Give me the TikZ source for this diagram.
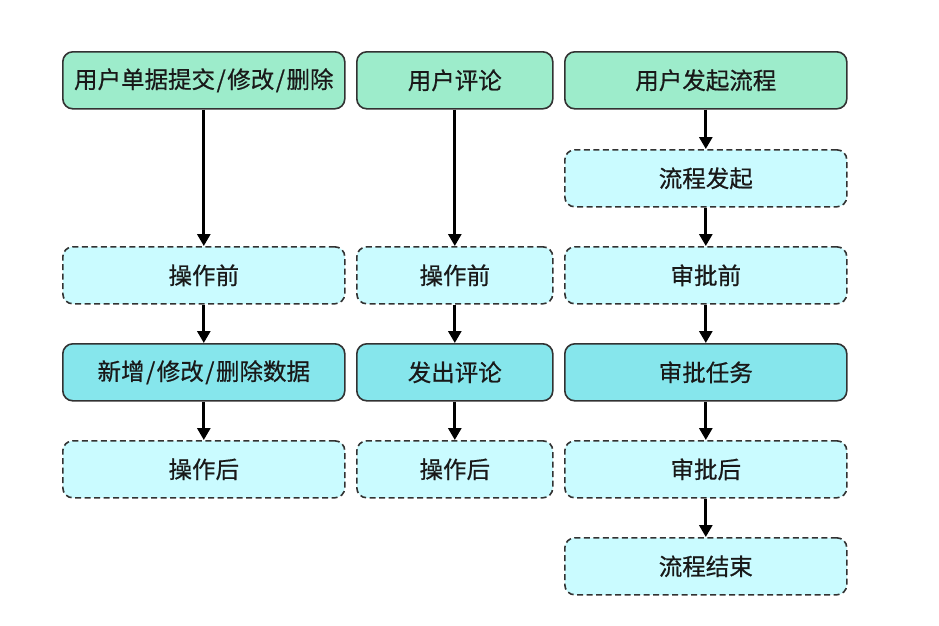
\documentclass[tikz,border=0pt]{standalone}
\usepackage{fontspec}
\newfontfamily\cjk[FakeBold=0.6]{Noto Sans CJK SC}
\usetikzlibrary{arrows.meta}
\definecolor{topgreen}{RGB}{157,236,203}
\definecolor{midcyan}{RGB}{134,230,236}
\definecolor{lightcyan}{RGB}{202,251,255}
\definecolor{edgegray}{RGB}{50,50,50}
\newcommand{\myslash}{\hspace{1.5pt}/\hspace{1.5pt}}
\tikzset{
  basebox/.style={rounded corners=10pt, draw=edgegray, line width=1.6pt, inner sep=0pt, anchor=north west, font=\cjk\fontsize{23.5}{27}\selectfont, text=black!90},
  topbox/.style={basebox, fill=topgreen},
  actbox/.style={basebox, fill=midcyan},
  hookbox/.style={basebox, fill=lightcyan, dash pattern=on 6pt off 3.5pt},
  flow/.style={line width=2.8pt, -{Triangle[length=12pt,width=13pt]}}
}
\begin{document}
\begin{tikzpicture}[x=1pt,y=-1pt]
\useasboundingbox (0,0) rectangle (939,625);
% column 1
\node[topbox, minimum width=282pt, minimum height=57pt] (a1) at (62,51) {用户单据提交\myslash 修改\myslash 删除};
\node[hookbox, minimum width=282pt, minimum height=57pt] (a2) at (62,246) {操作前};
\node[actbox, minimum width=282pt, minimum height=57pt] (a3) at (62,343) {新增\myslash 修改\myslash 删除数据};
\node[hookbox, minimum width=282pt, minimum height=57pt] (a4) at (62,440) {操作后};
% column 2
\node[topbox, minimum width=196pt, minimum height=57pt] (b1) at (356,51) {用户评论};
\node[hookbox, minimum width=196pt, minimum height=57pt] (b2) at (356,246) {操作前};
\node[actbox, minimum width=196pt, minimum height=57pt] (b3) at (356,343) {发出评论};
\node[hookbox, minimum width=196pt, minimum height=57pt] (b4) at (356,440) {操作后};
% column 3
\node[topbox, minimum width=282pt, minimum height=57pt] (c1) at (564,51) {用户发起流程};
\node[hookbox, minimum width=282pt, minimum height=57pt] (c2) at (564,149) {流程发起};
\node[hookbox, minimum width=282pt, minimum height=57pt] (c3) at (564,246) {审批前};
\node[actbox, minimum width=282pt, minimum height=57pt] (c4) at (564,343) {审批任务};
\node[hookbox, minimum width=282pt, minimum height=57pt] (c5) at (564,440) {审批后};
\node[hookbox, minimum width=282pt, minimum height=57pt] (c6) at (564,537) {流程结束};
% arrows
\draw[flow] (a1.south) -- (a2.north);
\draw[flow] (a2.south) -- (a3.north);
\draw[flow] (a3.south) -- (a4.north);
\draw[flow] (b1.south) -- (b2.north);
\draw[flow] (b2.south) -- (b3.north);
\draw[flow] (b3.south) -- (b4.north);
\draw[flow] (c1.south) -- (c2.north);
\draw[flow] (c2.south) -- (c3.north);
\draw[flow] (c3.south) -- (c4.north);
\draw[flow] (c4.south) -- (c5.north);
\draw[flow] (c5.south) -- (c6.north);
\end{tikzpicture}
\end{document}
